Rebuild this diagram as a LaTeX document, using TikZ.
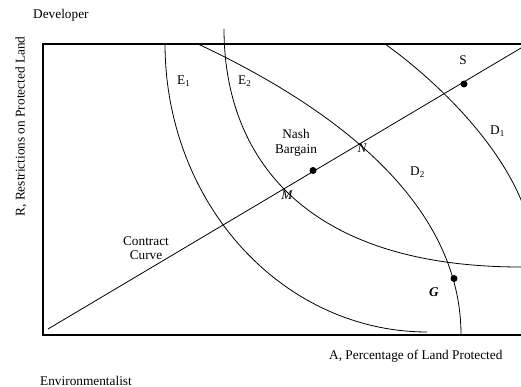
\documentclass[tikz,border=0pt]{standalone}
\usepackage{fontspec}
\setmainfont{Liberation Serif}
\newcommand{\subone}[1]{\raisebox{-1.5pt}{\fontsize{9}{9}\selectfont #1}}
\begin{document}
\begin{tikzpicture}[x=1pt,y=-1pt,
  lbl/.style={font=\fontsize{13.3}{15}\selectfont, inner sep=0pt},
  curve/.style={line width=0.8pt},
  axisline/.style={line width=1.6pt},
  dot/.style={circle, fill=black, inner sep=0pt, minimum size=7pt}]
\useasboundingbox (0,0) rectangle (521,387);
% box
\coordinate (TL) at (43,44);
\coordinate (TR) at (521,44);
\coordinate (BL) at (43,335);
\coordinate (BR) at (521,335);
\draw[axisline] (TR) -- (TL) -- (BL) -- (BR);
% E1
\draw[curve] plot[domain=0:90, samples=60] ({427-262*cos(\x)}, {44+288*sin(\x)});
% E2
\coordinate (E2a) at (224,29);
\coordinate (E2b) at (521,267);
\draw[curve] (E2a) .. controls (224,154) and (301,267) .. (E2b);
% D2
\coordinate (D2a) at (198,44);
\coordinate (D2b) at (461,335);
\draw[curve] (D2a) .. controls (370,124.8) and (461,223) .. (D2b);
% D1
\coordinate (D1a) at (385,44);
\coordinate (D1b) at (525,210);
\draw[curve] (D1a) .. controls (430,76) and (500,140) .. (D1b);
% contract curve
\coordinate (C0) at (48,329);
\coordinate (C1) at (521,48);
\draw[curve] (C0) -- (C1);
% dots
\node[dot] (S) at (464,84) {};
\node[dot] (NB) at (313,170.5) {};
\node[dot] (G) at (454,278.5) {};
% labels
\node[lbl, anchor=base west] (dev) at (33,18.5) {Developer};
\node[lbl, anchor=base west] (env) at (40,385) {Environmentalist};
\node[lbl, anchor=base west] (xl) at (329,359) {A, Percentage of Land Protected};
\node[lbl, rotate=90] (yl) at (21,126.5) {R, Restrictions on Protected Land};
\node[lbl, anchor=base west] (e1) at (177,85) {E\subone{1}};
\node[lbl, anchor=base west] (e2) at (238,85) {E\subone{2}};
\node[lbl, anchor=base] (sl) at (463,65) {S};
\node[lbl, anchor=base west] (d1) at (490,135) {D\subone{1}};
\node[lbl, anchor=base west] (d2) at (410,176) {D\subone{2}};
\node[lbl, anchor=north, align=center, font=\fontsize{13.3}{15}\selectfont] (nash) at (296,129) {Nash\\Bargain};
\node[lbl, anchor=north, align=center, font=\fontsize{13.3}{14}\selectfont] (cc) at (146,236.5) {Contract\\Curve};
\node[lbl, anchor=base, font=\fontsize{13.3}{15}\selectfont\itshape] (nl) at (362,153) {N};
\node[lbl, anchor=base, font=\fontsize{13.3}{15}\selectfont\itshape] (ml) at (287,200) {M};
\node[lbl, anchor=base, font=\fontsize{13.3}{15}\selectfont\bfseries\itshape] (gl) at (434,296) {G};
\end{tikzpicture}
\end{document}
